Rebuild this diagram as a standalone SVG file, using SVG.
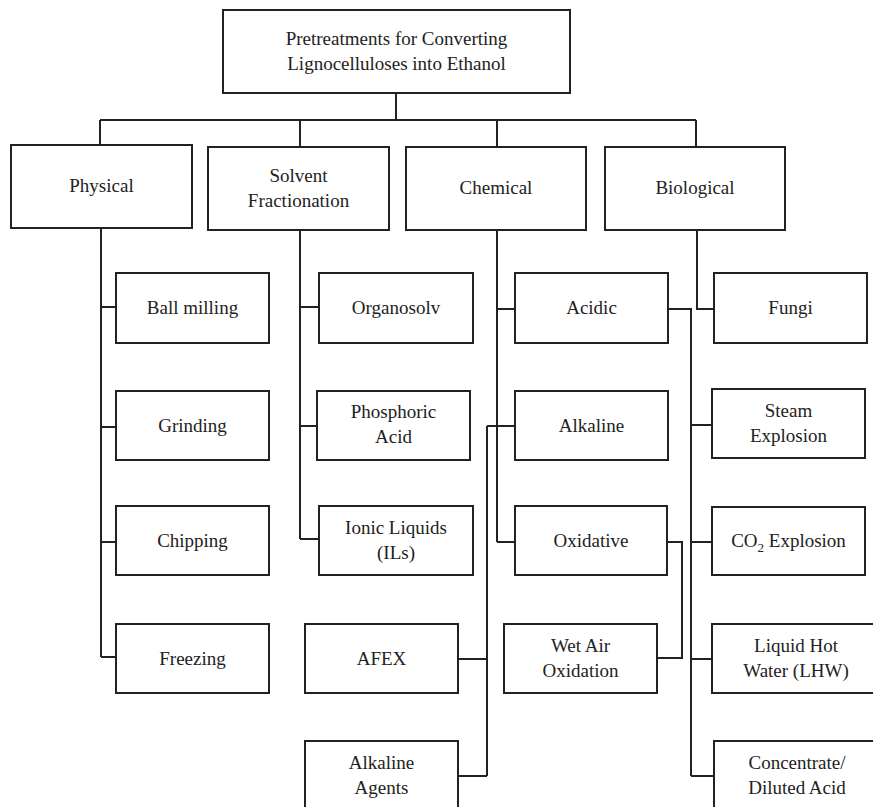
<svg xmlns="http://www.w3.org/2000/svg" width="873" height="807" viewBox="0 0 873 807">
<style>
.box{fill:#fff;stroke:#222;stroke-width:2}
.c{fill:none;stroke:#222;stroke-width:2}
text{font-family:"Liberation Serif","Times New Roman",serif;font-size:19px;fill:#222;text-anchor:middle}
</style>
<rect width="873" height="807" fill="#fff"/>
<g id="connectors">
<path class="c" d="M396 93V120M100 120H696M100 120V145M300 120V147M497 120V147M696 120V147"/>
<path class="c" d="M101 228V657M101 307H116M101 427H116M101 542H116M101 657H116"/>
<path class="c" d="M300 230V539M300 307H319M300 426H317M300 539H319"/>
<path class="c" d="M497 230V542M497 309H515M487 426H515M497 542H515"/>
<path class="c" d="M487 426V776M458 659H487M458 776H487"/>
<path class="c" d="M668 309H691V776M691 425H712M691 542H712M691 659H712M691 776H714"/>
<path class="c" d="M667 542H682V658H657"/>
<path class="c" d="M697 230V309H714"/>
</g>
<g id="root"><rect class="box" x="223" y="10" width="347" height="83"/><text x="396.5" y="45">Pretreatments for Converting</text><text x="396.5" y="70">Lignocelluloses into Ethanol</text></g>
<g id="physical"><rect class="box" x="11" y="145" width="181" height="83"/><text x="101.5" y="192">Physical</text></g>
<g id="solvent"><rect class="box" x="208" y="147" width="181" height="83"/><text x="298.5" y="182">Solvent</text><text x="298.5" y="207">Fractionation</text></g>
<g id="chemical"><rect class="box" x="406" y="147" width="180" height="83"/><text x="496" y="194">Chemical</text></g>
<g id="biological"><rect class="box" x="605" y="147" width="180" height="83"/><text x="695" y="194">Biological</text></g>
<g id="ball-milling"><rect class="box" x="116" y="273" width="153" height="70"/><text x="192.5" y="314">Ball milling</text></g>
<g id="grinding"><rect class="box" x="116" y="391" width="153" height="69"/><text x="192.5" y="432">Grinding</text></g>
<g id="chipping"><rect class="box" x="116" y="506" width="153" height="69"/><text x="192.5" y="547">Chipping</text></g>
<g id="freezing"><rect class="box" x="116" y="624" width="153" height="69"/><text x="192.5" y="665">Freezing</text></g>
<g id="organosolv"><rect class="box" x="319" y="273" width="154" height="70"/><text x="396" y="314">Organosolv</text></g>
<g id="phosphoric"><rect class="box" x="317" y="391" width="153" height="69"/><text x="393.5" y="418">Phosphoric</text><text x="393.5" y="443">Acid</text></g>
<g id="ionic"><rect class="box" x="319" y="506" width="154" height="69"/><text x="396" y="534">Ionic Liquids</text><text x="396" y="559">(ILs)</text></g>
<g id="afex"><rect class="box" x="305" y="624" width="153" height="69"/><text x="381.5" y="665">AFEX</text></g>
<g id="alkaline-agents"><rect class="box" x="305" y="741" width="153" height="80"/><text x="381.5" y="769">Alkaline</text><text x="381.5" y="794">Agents</text></g>
<g id="acidic"><rect class="box" x="515" y="273" width="153" height="70"/><text x="591.5" y="314">Acidic</text></g>
<g id="alkaline"><rect class="box" x="515" y="391" width="153" height="69"/><text x="591.5" y="432">Alkaline</text></g>
<g id="oxidative"><rect class="box" x="515" y="506" width="152" height="69"/><text x="591" y="547">Oxidative</text></g>
<g id="wet-air"><rect class="box" x="504" y="624" width="153" height="69"/><text x="580.5" y="652">Wet Air</text><text x="580.5" y="677">Oxidation</text></g>
<g id="fungi"><rect class="box" x="714" y="273" width="153" height="70"/><text x="790.5" y="314">Fungi</text></g>
<g id="steam"><rect class="box" x="712" y="389" width="153" height="69"/><text x="788.5" y="417">Steam</text><text x="788.5" y="442">Explosion</text></g>
<g id="co2"><rect class="box" x="712" y="507" width="153" height="68"/><text x="788.5" y="547">CO<tspan font-size="13" dy="5">2</tspan><tspan dy="-5"> Explosion</tspan></text></g>
<g id="lhw"><rect class="box" x="712" y="624" width="168" height="69"/><text x="796" y="652">Liquid Hot</text><text x="796" y="677">Water (LHW)</text></g>
<g id="acid"><rect class="box" x="714" y="741" width="168" height="80"/><text x="797" y="769">Concentrate/</text><text x="797" y="794">Diluted Acid</text></g>
</svg>
